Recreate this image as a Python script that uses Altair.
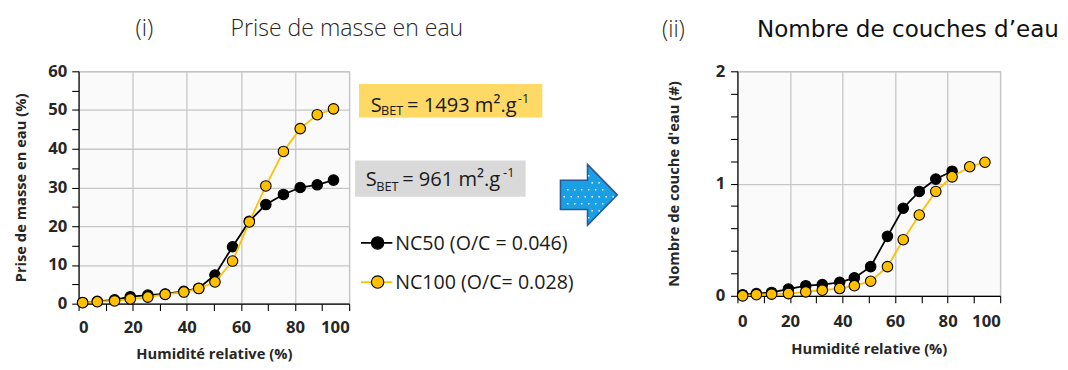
import altair as alt
import pandas as pd

# ---------------- data ----------------
rh_mass = [1.5, 6.9, 13.3, 19.1, 25.6, 32.0, 38.9, 44.4, 50.4, 56.9, 63.1, 69.2, 75.7, 81.9, 88.2, 94.2]
nc50_mass = [0.3, 0.6, 1.0, 1.8, 2.2, 2.5, 3.2, 4.0, 7.4, 14.7, 21.3, 25.6, 28.2, 30.0, 30.7, 31.9]
nc100_mass = [0.25, 0.5, 0.7, 1.2, 1.7, 2.4, 3.0, 3.9, 5.6, 11.0, 21.1, 30.4, 39.3, 45.2, 48.8, 50.3]

rh_layers = [2.0, 7.2, 13.0, 19.4, 26.0, 32.3, 38.9, 44.5, 50.7, 57.1, 63.1, 69.2, 75.5, 81.7, 88.4, 94.2]
nc50_layers = [0.01, 0.02, 0.03, 0.06, 0.09, 0.10, 0.12, 0.16, 0.26, 0.53, 0.78, 0.93, 1.04, 1.11]
nc100_layers = [0.0, 0.01, 0.015, 0.02, 0.035, 0.05, 0.065, 0.09, 0.13, 0.26, 0.50, 0.72, 0.93, 1.06, 1.15, 1.19]

series_names = ["NC50 (O/C = 0.046)", "NC100 (O/C= 0.028)"]
series_colors = ["#000000", "#FFC000"]
bet_values = ["= 1493 m².g", "= 961 m².g"]
bet_box_colors = ["#FFD966", "#D9D9D9"]
panel_tags = ["(i)", "(ii)"]
panel_titles = ["Prise de masse en eau", "Nombre de couches d’eau"]
x_title = "Humidité relative (%)"
y_titles = ["Prise de masse en eau (%)", "Nombre de couche d'eau (#)"]

# ---------------- styling ----------------
AXIS_FONT = "Open Sans"
GRID = "#C6C6C6"
BG = "#FAFAFA"


def txt(label, x, y, size, font="Open Sans", weight="normal", color="#1a1a1a"):
    return alt.Chart(pd.DataFrame({"label": [label]})).mark_text(
        align="left", baseline="alphabetic", font=font, fontSize=size,
        fontWeight=weight, color=color
    ).encode(x=alt.value(x), y=alt.value(y), text="label:N")


def series_layers(x, y, color, xenc, yenc):
    df = pd.DataFrame({"rh": x, "v": y})
    base = alt.Chart(df).encode(x=xenc, y=yenc)
    line = base.mark_line(color=color, strokeWidth=1.8)
    pts = base.mark_point(filled=True, fill=color, stroke="#000000",
                          strokeWidth=1.1, size=115, opacity=1)
    return [line, pts]


def x_enc(label_pad, title_pad):
    return alt.X(
        "rh:Q",
        scale=alt.Scale(domain=[0, 100], nice=False, zero=False),
        axis=alt.Axis(
            title=x_title,
            values=list(range(0, 101, 10)),
            labelExpr="datum.value % 20 === 0 ? datum.label : ''",
            labelOverlap=False,
            gridOpacity={"condition": {"test": "datum.value % 20 === 0", "value": 1}, "value": 0},
            labelPadding=label_pad,
            titlePadding=title_pad,
        ),
    )


# ---------------- left panel ----------------
y_left = alt.Y(
    "v:Q",
    scale=alt.Scale(domain=[0, 60], nice=False),
    axis=alt.Axis(
        title=y_titles[0],
        values=list(range(0, 61, 5)),
        labelExpr="datum.value % 10 === 0 ? datum.label : ''",
        labelOverlap=False,
        gridOpacity={"condition": {"test": "datum.value % 10 === 0", "value": 1}, "value": 0},
        labelPadding=5,
        titlePadding=20,
    ),
)

xl = x_enc(9, 12)
left_layers = []
left_layers += series_layers(rh_mass, nc50_mass, series_colors[0], xl, y_left)
left_layers += series_layers(rh_mass, nc100_mass, series_colors[1], xl, y_left)

# title
left_layers.append(txt(panel_tags[0], 58, -36, 23.5, font="Open Sans", weight=300, color="#262626"))
left_layers.append(txt(panel_titles[0], 155, -36, 23.5, font="Open Sans", weight=300, color="#262626"))

# S_BET boxes
boxes = [(286, 473, 13, 47), (282, 456, 91, 128)]
bet_pos = [(298, 41, 45, 335, 448, 32), (293, 117, 122, 330, 433, 108)]
for (x1, x2, y1, y2), col, val, (sx, sb, subb, vx, supx, supb) in zip(boxes, bet_box_colors, bet_values, bet_pos):
    left_layers.append(
        alt.Chart(pd.DataFrame({"c": [col]})).mark_rect(color=col).encode(
            x=alt.value(x1), x2=alt.value(x2), y=alt.value(y1), y2=alt.value(y2))
    )
    left_layers.append(txt("S", sx, sb, 20.5))
    left_layers.append(txt("BET", sx + 10.5, subb, 13))
    left_layers.append(txt(val, vx, sb, 20.5))
    left_layers.append(txt("-1", supx, supb, 13))

# legend
for i, (name, col) in enumerate(zip(series_names, series_colors)):
    yc = 175 + 40 * i
    left_layers.append(
        alt.Chart(pd.DataFrame({"s": [name]})).mark_rule(color=col, strokeWidth=1.8).encode(
            x=alt.value(288), x2=alt.value(320), y=alt.value(yc))
    )
    left_layers.append(
        alt.Chart(pd.DataFrame({"s": [name]})).mark_point(
            filled=True, fill=col, stroke="#000000", strokeWidth=1.1, size=160, opacity=1
        ).encode(x=alt.value(305), y=alt.value(yc))
    )
    left_layers.append(txt(name, 323, yc + 7, 20))

# arrow (decoration)
arrow_path = "M-0.92,-0.48L-0.03,-0.48L-0.03,-1L0.95,0L-0.03,1L-0.03,0.48L-0.92,0.48Z"
left_layers.append(
    alt.Chart(pd.DataFrame({"a": [1]})).mark_point(
        shape=arrow_path, size=3844, filled=True, fill="#1A9FE5", stroke="#2B5797",
        strokeWidth=1.6, opacity=1
    ).encode(x=alt.value(520), y=alt.value(126))
)
# white dots texture on arrow
dots = []
d = 0.05
row = 0
yy = -0.88
while yy < 0.9:
    off = 0.0 if row % 2 == 0 else 0.115
    xx = -0.82 + off
    while xx < 0.9:
        if xx < -0.03:
            inside = abs(yy) < 0.40
        else:
            inside = abs(yy) < (0.95 - xx) * (1 / 0.98) - 0.1
        if inside:
            dots.append(f"M{xx:.3f},{yy:.3f}h{d}v{d}h-{d}Z")
        xx += 0.23
    yy += 0.23
    row += 1
left_layers.append(
    alt.Chart(pd.DataFrame({"a": [1]})).mark_point(
        shape="".join(dots), size=3844, filled=True, fill="#FFFFFF", strokeWidth=0, opacity=0.95
    ).encode(x=alt.value(520), y=alt.value(126))
)

left = alt.layer(*left_layers).properties(width=276, height=237)

# ---------------- right panel ----------------
y_right = alt.Y(
    "v:Q",
    scale=alt.Scale(domain=[0, 2], nice=False),
    axis=alt.Axis(
        title=y_titles[1],
        values=[round(i * 0.2, 1) for i in range(11)],
        labelExpr="datum.value % 1 === 0 ? format(datum.value, 'd') : ''",
        labelOverlap=False,
        gridOpacity={"condition": {"test": "datum.value % 1 === 0", "value": 1}, "value": 0},
        labelPadding=6,
        titlePadding=34,
    ),
)
xr = x_enc(11, 13)
right_layers = []
right_layers += series_layers(rh_layers[:len(nc50_layers)], nc50_layers, series_colors[0], xr, y_right)
right_layers += series_layers(rh_layers, nc100_layers, series_colors[1], xr, y_right)
right_layers.append(txt(panel_tags[1], -77, -35, 23.5, font="Open Sans", weight=300, color="#262626"))
right_layers.append(txt(panel_titles[1], 20, -35, 23.5, font="DejaVu Sans", color="#111111"))

right = alt.layer(*right_layers).properties(width=268, height=229)

chart = alt.hconcat(left, right, spacing=40).properties(
    padding={"left": 4, "top": 5, "right": 0, "bottom": 0}
).configure_view(
    fill=BG, stroke=GRID, strokeWidth=1.2
).configure_axis(
    labelFont=AXIS_FONT, labelFontWeight="bold", labelFontSize=17, labelColor="#262626",
    titleFont=AXIS_FONT, titleFontWeight="bold", titleFontSize=15, titleColor="#262626",
    domainColor="#000000", domainWidth=1.2, tickColor="#000000", tickSize=7, tickWidth=1.1,
    gridColor=GRID, gridWidth=1.3,
).configure_axisX(labelAngle=0)

chart.save("out.html", embed_options={"renderer": "svg", "actions": False})
